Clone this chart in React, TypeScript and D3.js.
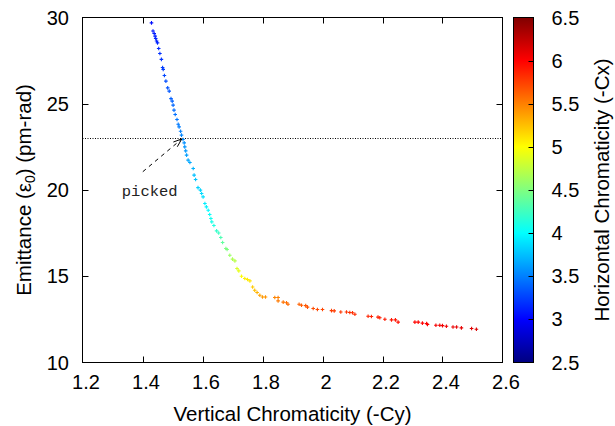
import React from 'react';
import * as d3 from 'd3';

// Vertical chromaticity (-Cy)
const cyValues = [
  1.430, 1.435, 1.439, 1.442, 1.444, 1.447, 1.450, 1.454, 1.458, 1.463, 1.467, 1.469, 1.473, 1.478, 1.484, 1.489, 1.495,
  1.499, 1.502, 1.505, 1.509, 1.515, 1.519, 1.522, 1.527, 1.530, 1.535, 1.539, 1.541, 1.544, 1.547, 1.552, 1.558, 1.569,
  1.572, 1.577, 1.585, 1.593, 1.597, 1.602, 1.608, 1.613, 1.619, 1.624, 1.628, 1.631, 1.638, 1.647, 1.654, 1.661, 1.667,
  1.678, 1.682, 1.691, 1.700, 1.708, 1.715, 1.721, 1.730, 1.741, 1.750, 1.758, 1.767, 1.774, 1.782, 1.791, 1.800, 1.810,
  1.841, 1.852, 1.852, 1.869, 1.880, 1.885,
  1.922, 1.930, 1.944, 1.950, 1.969, 1.983, 2.000, 2.030, 2.039, 2.061, 2.080, 2.091, 2.100, 2.108, 2.152, 2.163, 2.185,
  2.191, 2.208, 2.230, 2.243, 2.252, 2.308, 2.319, 2.333, 2.347, 2.350, 2.378, 2.391, 2.400, 2.413, 2.435, 2.447, 2.463,
  2.497, 2.513,
];

// Emittance (pm-rad)
const emitValues = [
  29.69, 29.22, 29.07, 28.92, 28.78, 28.64, 28.53, 28.20, 27.91, 27.57, 27.10, 26.99, 26.64, 26.31, 25.92, 25.73, 25.30,
  25.15, 24.92, 24.63, 24.38, 24.09, 23.81, 23.66, 23.41, 23.18, 22.93, 22.73, 22.50, 22.27, 22.02, 21.73, 21.59, 21.25,
  20.86, 20.61, 20.14, 19.99, 19.80, 19.60, 19.22, 19.02, 18.83, 18.58, 18.35, 18.15, 17.94, 17.63, 17.51, 17.25, 16.96,
  16.61, 16.55, 16.22, 15.99, 15.89, 15.45, 15.31, 15.00, 14.87, 14.81, 14.73, 14.38, 14.19, 14.06, 13.90, 13.80, 13.80,
  13.77, 13.77, 13.57, 13.50, 13.46, 13.38,
  13.38, 13.32, 13.30, 13.21, 13.13, 13.07, 13.07, 13.01, 12.99, 12.93, 12.93, 12.90, 12.88, 12.80, 12.68, 12.67, 12.63,
  12.59, 12.51, 12.47, 12.47, 12.34, 12.34, 12.34, 12.28, 12.26, 12.20, 12.16, 12.16, 12.14, 12.10, 12.06, 12.06, 12.01,
  11.97, 11.93,
];

// Horizontal chromaticity (-Cx), colour value
const cxValues = [
  3.05, 3.08, 3.10, 3.10, 3.12, 3.12, 3.14, 3.16, 3.18, 3.20, 3.23, 3.24, 3.27, 3.30, 3.32, 3.34, 3.37,
  3.38, 3.40, 3.42, 3.44, 3.46, 3.48, 3.49, 3.50, 3.52, 3.54, 3.56, 3.58, 3.60, 3.62, 3.65, 3.66, 3.70,
  3.75, 3.77, 3.82, 3.84, 3.86, 3.88, 3.93, 3.96, 3.99, 4.02, 4.06, 4.09, 4.12, 4.20, 4.23, 4.30, 4.38,
  4.48, 4.50, 4.60, 4.68, 4.72, 4.85, 4.90, 5.00, 5.05, 5.08, 5.10, 5.20, 5.25, 5.30, 5.36, 5.40, 5.42,
  5.48, 5.50, 5.52, 5.55, 5.57, 5.58,
  5.62, 5.64, 5.66, 5.68, 5.70, 5.72, 5.73, 5.76, 5.77, 5.79, 5.80, 5.81, 5.82, 5.83, 5.86, 5.87, 5.88,
  5.89, 5.90, 5.92, 5.93, 5.94, 5.98, 5.99, 6.00, 6.01, 6.02, 6.04, 6.05, 6.05, 6.06, 6.08, 6.09, 6.10,
  6.12, 6.14,
];

const xTicks = [1.2, 1.4, 1.6, 1.8, 2.0, 2.2, 2.4, 2.6];
const xTickLabels = ['1.2', '1.4', '1.6', '1.8', '2', '2.2', '2.4', '2.6'];
const yTicks = [10, 15, 20, 25, 30];
const cbTicks = [2.5, 3, 3.5, 4, 4.5, 5, 5.5, 6, 6.5];
const cbTickLabels = ['2.5', '3', '3.5', '4', '4.5', '5', '5.5', '6', '6.5'];

const refLineEmit = 23;
const arrowFrom = [1.401, 21.06];
const arrowTo = [1.531, 22.96];
const pickedLabelPos = [1.331, 19.65];

const xDomain = [1.2, 2.6];
const yDomain = [10, 30];
const cbDomain = [2.5, 6.5];

function jet(v: number): string {
  const t = (v - cbDomain[0]) / (cbDomain[1] - cbDomain[0]);
  const c = (x: number) => Math.max(0, Math.min(1, x));
  const r = c(1.5 - Math.abs(4 * t - 3));
  const g = c(1.5 - Math.abs(4 * t - 2));
  const b = c(1.5 - Math.abs(4 * t - 1));
  return d3.rgb(r * 255, g * 255, b * 255).formatHex();
}

const FONT = "'Liberation Sans', Arial, Helvetica, sans-serif";

export default function App() {
  const W = 615, H = 426;
  const left = 82.5, right = 502.5, top = 17.5, bottom = 362.5;
  const x = d3.scaleLinear().domain(xDomain).range([left, right]);
  const y = d3.scaleLinear().domain(yDomain).range([bottom, top]);
  const cbX0 = 513.5, cbX1 = 533.5;
  const cb = d3.scaleLinear().domain(cbDomain).range([bottom, top]);
  const tickLen = 6;

  const stops = d3.range(0, 41).map((i) => {
    const v = cbDomain[0] + (i / 40) * (cbDomain[1] - cbDomain[0]);
    return { offset: `${(i / 40) * 100}%`, color: jet(v) };
  });

  const ax = x(arrowFrom[0]), ay = y(arrowFrom[1]);
  const bx = x(arrowTo[0]), by = y(arrowTo[1]);
  const ang = Math.atan2(by - ay, bx - ax);
  const hl = 9, ha = (20 * Math.PI) / 180;
  const h1 = [bx - hl * Math.cos(ang - ha), by - hl * Math.sin(ang - ha)];
  const h2 = [bx - hl * Math.cos(ang + ha), by - hl * Math.sin(ang + ha)];

  return (
    <svg width={W} height={H} style={{ position: 'absolute', left: 0, top: 0, background: '#fff' }}>
      <defs>
        <linearGradient id="jetgrad" x1="0" y1="1" x2="0" y2="0">
          {stops.map((s, i) => (
            <stop key={i} offset={s.offset} stopColor={s.color} />
          ))}
        </linearGradient>
      </defs>
      <rect x={0} y={0} width={W} height={H} fill="#fff" />

      {/* reference line */}
      <line x1={left} x2={right} y1={Math.round(y(refLineEmit)) + 0.5} y2={Math.round(y(refLineEmit)) + 0.5}
        stroke="#000" strokeWidth={1} strokeDasharray="1,1.5" />

      {/* points */}
      {cyValues.map((cy, i) => {
        const px = x(cy), py = y(emitValues[i]);
        return (
          <path key={i} d={`M${px - 1.8},${py}H${px + 1.8}M${px},${py - 1.8}V${py + 1.8}`}
            stroke={jet(cxValues[i])} strokeWidth={1.1} fill="none" />
        );
      })}

      {/* arrow */}
      <line x1={ax} y1={ay} x2={bx} y2={by} stroke="#000" strokeWidth={1} strokeDasharray="4,4" />
      <path d={`M${h1[0]},${h1[1]}L${bx},${by}L${h2[0]},${h2[1]}`} stroke="#000" strokeWidth={1} fill="none" />
      <text x={x(pickedLabelPos[0])} y={y(pickedLabelPos[1])} fontFamily="'Liberation Mono', 'DejaVu Sans Mono', monospace"
        fontSize={15.5} fill="#222">picked</text>

      {/* frame */}
      <rect x={left} y={top} width={right - left} height={bottom - top} fill="none" stroke="#000" strokeWidth={1} />

      {/* x ticks */}
      {xTicks.map((t, i) => (
        <g key={i}>
          {i > 0 && i < xTicks.length - 1 && (
            <>
              <line x1={Math.round(x(t)) + 0.5} x2={Math.round(x(t)) + 0.5} y1={bottom} y2={bottom - tickLen} stroke="#000" />
              <line x1={Math.round(x(t)) + 0.5} x2={Math.round(x(t)) + 0.5} y1={top} y2={top + tickLen} stroke="#000" />
            </>
          )}
          <text x={x(t) + 3.5} y={389} textAnchor="middle" fontFamily={FONT} fontSize={20} fill="#000">{xTickLabels[i]}</text>
        </g>
      ))}

      {/* y ticks */}
      {yTicks.map((t, i) => (
        <g key={i}>
          {i > 0 && i < yTicks.length - 1 && (
            <>
              <line x1={left} x2={left + tickLen} y1={Math.round(y(t)) + 0.5} y2={Math.round(y(t)) + 0.5} stroke="#000" />
              <line x1={right} x2={right - tickLen} y1={Math.round(y(t)) + 0.5} y2={Math.round(y(t)) + 0.5} stroke="#000" />
            </>
          )}
          <text x={69} y={y(t) + 7} textAnchor="end" fontFamily={FONT} fontSize={20} fill="#000">{t}</text>
        </g>
      ))}

      {/* axis labels */}
      <text x={(left + right) / 2} y={420.5} textAnchor="middle" fontFamily={FONT} fontSize={20.5} fill="#000">
        Vertical Chromaticity (-Cy)
      </text>
      <text transform={`translate(31,${(top + bottom) / 2}) rotate(-90)`} textAnchor="middle" fontFamily={FONT}
        fontSize={20.5} fill="#000">
        Emittance (ε<tspan dy={4} fontSize={14}>0</tspan><tspan dy={-4}>) (pm-rad)</tspan>
      </text>

      {/* colorbar */}
      <rect x={cbX0} y={top} width={cbX1 - cbX0} height={bottom - top} fill="url(#jetgrad)" />
      <rect x={cbX0} y={top} width={cbX1 - cbX0} height={bottom - top} fill="none" stroke="#000" strokeWidth={1} />
      {cbTicks.map((t, i) => (
        <g key={i}>
          {i > 0 && i < cbTicks.length - 1 && (
            <line x1={cbX1} x2={cbX1 - 5} y1={Math.round(cb(t)) + 0.5} y2={Math.round(cb(t)) + 0.5} stroke="#000" />
          )}
          <text x={551.5} y={cb(t) + 7} fontFamily={FONT} fontSize={20} fill="#000">{cbTickLabels[i]}</text>
        </g>
      ))}
      <text transform={`translate(609,${(top + bottom) / 2}) rotate(-90)`} textAnchor="middle" fontFamily={FONT}
        fontSize={20.5} fill="#000">
        Horizontal Chromaticity (-Cx)
      </text>
    </svg>
  );
}
